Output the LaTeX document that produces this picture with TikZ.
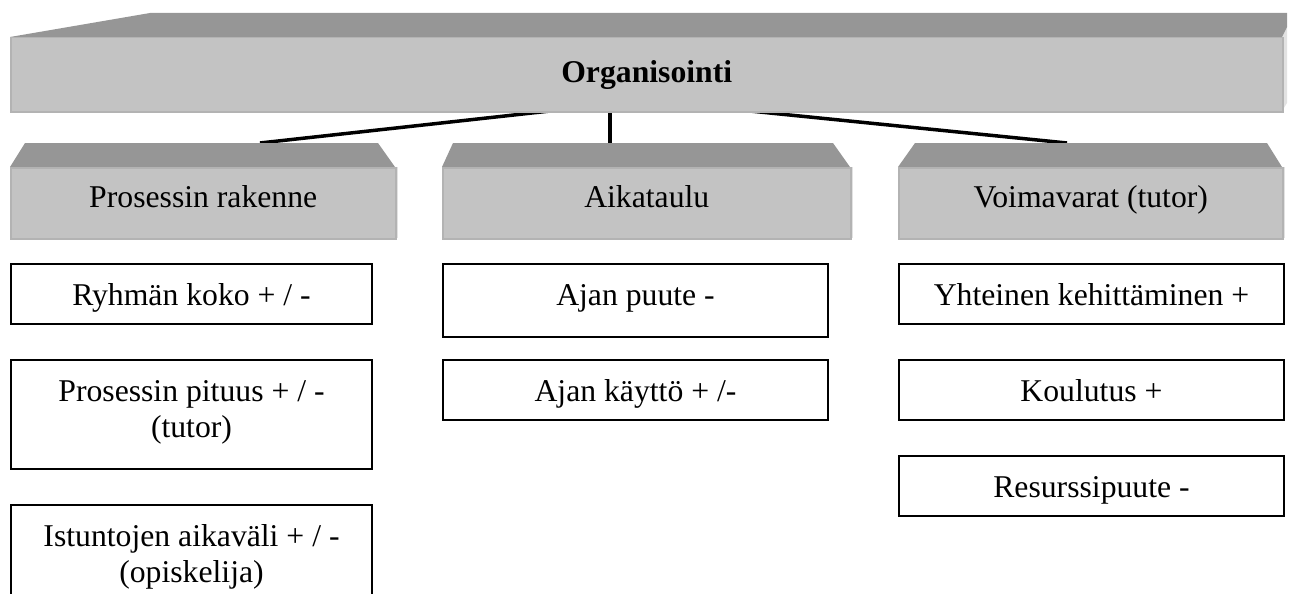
\documentclass[tikz,border=0pt]{standalone}
\usepackage{fontspec}
\setmainfont{Liberation Serif}
\usetikzlibrary{calc}

\definecolor{slabtop}{HTML}{969696}
\definecolor{slabfront}{HTML}{C3C3C3}
\definecolor{slabedge}{HTML}{B3B3B3}
\definecolor{slabside}{HTML}{E2E2E2}

\tikzset{
  topface/.style={fill=slabtop},
  sideface/.style={fill=slabside},
  front/.style={fill=slabfront, draw=slabedge, line width=1.5pt,
                anchor=north west, inner sep=0pt},
  leaf/.style={draw=black, line width=2pt, fill=white,
               anchor=north west, inner sep=0pt},
  boxtext/.style={anchor=base, align=center, inner sep=0pt,
                  font=\fontsize{31.7}{36.5}\selectfont},
  link/.style={line width=3.5pt, draw=black},
}

\begin{document}
\begin{tikzpicture}[x=1pt, y=-1pt]
  \clip (0,0) rectangle (1296,594);

  % connectors (drawn first so the slabs cover their ends)
  \coordinate (oL) at (550,111);
  \coordinate (oM) at (610,111);
  \coordinate (oR) at (750,111);
  \coordinate (pT) at (260,143);
  \coordinate (sT) at (610,143);
  \coordinate (rT) at (1067,143);
  \draw[link] (oL) -- (pT);
  \draw[link] (oM) -- (sT);
  \draw[link] (oR) -- (rT);

  % main slab
  \fill[sideface] (1282,37) -- (1287,27) -- (1287,103) -- (1282,111) -- cycle;
  \fill[topface] (10,37) -- (150,13) -- (1287,13) -- (1287,27) -- (1282,37) -- cycle;
  \node[front, minimum width=1272pt, minimum height=74pt] (org) at (10,37) {};
  \node[boxtext, font=\fontsize{31.7}{36.5}\selectfont\bfseries]
    (orgt) at ($(org.north)+(0,46)$) {Organisointi};

  % second-level slabs
  \fill[topface] (10,167) -- (25,143) -- (378,143) -- (395,167) -- cycle;
  \fill[sideface] (395,167) rectangle (397.5,238);
  \node[front, minimum width=385pt, minimum height=71pt] (proc) at (10,167) {};
  \node[boxtext] (proct) at ($(proc.north)+(0,40)$) {Prosessin rakenne};

  \fill[topface] (442,167) -- (453,143) -- (833,143) -- (850,167) -- cycle;
  \fill[sideface] (850,167) rectangle (852.5,238);
  \node[front, minimum width=408pt, minimum height=71pt] (sched) at (442,167) {};
  \node[boxtext] (schedt) at ($(sched.north)+(0,40)$) {Aikataulu};

  \fill[topface] (898,167) -- (915,143) -- (1267,143) -- (1282,167) -- cycle;
  \fill[sideface] (1282,167) rectangle (1284.5,238);
  \node[front, minimum width=384pt, minimum height=71pt] (res) at (898,167) {};
  \node[boxtext] (rest) at ($(res.north)+(0,40)$) {Voimavarat (tutor)};

  % leaves, column 1 (two-line texts sit on the baseline of their last line)
  \node[leaf, minimum width=361pt, minimum height=60pt] (l1) at (10,263) {};
  \node[boxtext] at ($(l1.north)+(0,42)$) {Ryhmän koko + / -};
  \node[leaf, minimum width=361pt, minimum height=109pt] (l2) at (10,359) {};
  \node[boxtext] at ($(l2.north)+(0,78.5)$) {Prosessin pituus + / -\\(tutor)};
  \node[leaf, minimum width=361pt, minimum height=109pt] (l3) at (10,504) {};
  \node[boxtext] at ($(l3.north)+(0,78.5)$) {Istuntojen aikaväli + / -\\(opiskelija)};

  % leaves, column 2
  \node[leaf, minimum width=385pt, minimum height=73pt] (m1) at (442,263) {};
  \node[boxtext] at ($(m1.north)+(0,42)$) {Ajan puute -};
  \node[leaf, minimum width=385pt, minimum height=60pt] (m2) at (442,359) {};
  \node[boxtext] at ($(m2.north)+(0,42)$) {Ajan käyttö + /-};

  % leaves, column 3
  \node[leaf, minimum width=385pt, minimum height=60pt] (r1) at (898,263) {};
  \node[boxtext] at ($(r1.north)+(0,42)$) {Yhteinen kehittäminen +};
  \node[leaf, minimum width=385pt, minimum height=60pt] (r2) at (898,359) {};
  \node[boxtext] at ($(r2.north)+(0,42)$) {Koulutus +};
  \node[leaf, minimum width=385pt, minimum height=60pt] (r3) at (898,455) {};
  \node[boxtext] at ($(r3.north)+(0,42)$) {Resurssipuute -};
\end{tikzpicture}
\end{document}
